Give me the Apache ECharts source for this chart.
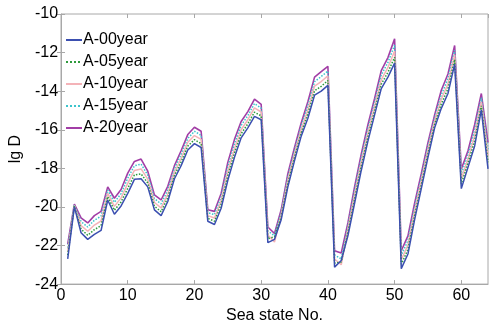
<!DOCTYPE html>
<html>
<head>
<meta charset="utf-8">
<script src="https://cdn.jsdelivr.net/npm/echarts@6/dist/echarts.min.js"></script>
<style>html,body{margin:0;padding:0;background:#fff}#c{width:490px;height:329px}</style>
</head>
<body>
<div id="c"></div>
<script>
var seaStates = [1,2,3,4,5,6,7,8,9,10,11,12,13,14,15,16,17,18,19,20,21,22,23,24,25,26,27,28,29,30,31,32,33,34,35,36,37,38,39,40,41,42,43,44,45,46,47,48,49,50,51,52,53,54,55,56,57,58,59,60,61,62,63,64];
var seriesNames = ['A-00year','A-05year','A-10year','A-15year','A-20year'];
var a00 = [-22.69,-20.00,-21.34,-21.68,-21.42,-21.22,-19.64,-20.38,-19.95,-19.30,-18.57,-18.54,-18.96,-20.15,-20.45,-19.72,-18.54,-17.86,-17.05,-16.72,-16.92,-20.74,-20.91,-20.07,-18.62,-17.43,-16.42,-15.90,-15.31,-15.48,-21.85,-21.68,-20.66,-18.96,-17.60,-16.33,-15.40,-14.21,-14.00,-13.70,-23.12,-22.78,-21.50,-19.81,-18.11,-16.59,-15.23,-13.87,-13.27,-12.55,-23.20,-22.44,-20.66,-19.05,-17.43,-15.90,-14.89,-14.12,-12.60,-19.05,-17.94,-16.84,-14.97,-18.03];
var a05 = [-22.50,-19.96,-21.15,-21.47,-21.18,-20.97,-19.47,-20.17,-19.74,-19.04,-18.34,-18.29,-18.76,-19.96,-20.25,-19.52,-18.37,-17.67,-16.85,-16.51,-16.71,-20.59,-20.74,-19.88,-18.39,-17.20,-16.21,-15.69,-15.09,-15.28,-21.65,-21.55,-20.53,-18.79,-17.43,-16.16,-15.19,-13.98,-13.75,-13.45,-22.91,-22.85,-21.33,-19.60,-17.90,-16.38,-15.02,-13.64,-13.02,-12.24,-22.97,-22.21,-20.45,-18.86,-17.24,-15.73,-14.66,-13.87,-12.36,-18.80,-17.73,-16.57,-14.76,-17.69];
var a10 = [-22.31,-19.93,-20.96,-21.26,-20.94,-20.73,-19.30,-19.97,-19.53,-18.78,-18.11,-18.03,-18.56,-19.77,-20.05,-19.33,-18.20,-17.48,-16.65,-16.30,-16.50,-20.45,-20.57,-19.69,-18.16,-16.97,-16.00,-15.48,-14.86,-15.08,-21.45,-21.82,-20.41,-18.62,-17.26,-15.99,-14.98,-13.74,-13.50,-13.21,-22.70,-23.00,-21.17,-19.39,-17.69,-16.17,-14.81,-13.41,-12.77,-11.92,-22.74,-21.97,-20.24,-18.67,-17.05,-15.57,-14.42,-13.62,-12.12,-18.54,-17.52,-16.29,-14.55,-17.35];
var a15 = [-22.12,-19.89,-20.76,-21.04,-20.69,-20.48,-19.13,-19.76,-19.31,-18.51,-17.87,-17.78,-18.35,-19.57,-19.84,-19.13,-18.03,-17.28,-16.45,-16.08,-16.29,-20.30,-20.40,-19.49,-17.92,-16.73,-15.78,-15.27,-14.64,-14.88,-21.24,-21.50,-20.28,-18.45,-17.09,-15.82,-14.76,-13.51,-13.24,-12.96,-22.48,-22.70,-21.00,-19.17,-17.47,-15.95,-14.59,-13.17,-12.51,-11.61,-22.50,-21.74,-20.02,-18.47,-16.86,-15.40,-14.19,-13.36,-11.87,-18.29,-17.30,-16.02,-14.33,-17.01];
var a20 = [-21.93,-19.85,-20.57,-20.83,-20.45,-20.23,-18.96,-19.55,-19.10,-18.25,-17.64,-17.52,-18.15,-19.38,-19.64,-18.93,-17.86,-17.09,-16.25,-15.87,-16.08,-20.15,-20.23,-19.30,-17.69,-16.50,-15.57,-15.06,-14.41,-14.68,-21.04,-21.38,-20.15,-18.28,-16.92,-15.65,-14.55,-13.27,-12.99,-12.71,-22.27,-22.39,-20.83,-18.96,-17.26,-15.74,-14.38,-12.94,-12.26,-11.29,-22.27,-21.50,-19.81,-18.28,-16.67,-15.23,-13.95,-13.11,-11.63,-18.03,-17.09,-15.74,-14.12,-16.67];
var yTicks = [-24,-22,-20,-18,-16,-14,-12,-10];
var xTicks = [0,10,20,30,40,50,60];

var allData = [a00,a05,a10,a15,a20];
var colors = ['#3b4fb0','#2e9a3c','#f4b3b8','#3cc4cc','#a23ea6'];
var types = ['solid','dotted','solid','dotted','solid'];
var widths = [1.5,1.5,1.5,1.5,1.6];

function pairs(vals){
  return seaStates.map(function(x,i){return [x, vals[i]];});
}
var series = allData.map(function(vals,k){
  return {
    name: seriesNames[k], type:'line', data: pairs(vals),
    symbol:'none', showSymbol:false, animation:false,
    xAxisIndex:0, yAxisIndex:0,
    lineStyle:{color:colors[k], width:widths[k], type:types[k]},
    itemStyle:{color:colors[k]}, z: 2 + (4-k)
  };
});

var font = 'Liberation Sans, Arial, sans-serif';
var chart = echarts.init(document.getElementById('c'), null, {renderer:'canvas'});
chart.setOption({
  backgroundColor:'#fff',
  animation:false,
  grid:{left:48.5, top:14, right:2, bottom:40, show:true, borderColor:'#a8a8a8', borderWidth:1, containLabel:false},
  legend:{
    orient:'vertical', left:60, top:27, itemWidth:16, itemHeight:14, itemGap:6,
    data: seriesNames,
    itemStyle:{opacity:0, borderWidth:0},
    textStyle:{fontFamily:font, fontSize:16, color:'#000', lineHeight:16, padding:[0,0,0,-4]}
  },
  xAxis:[{
    type:'value', min:xTicks[0], max:64, interval:10,
    name:'Sea state No.', nameLocation:'middle', nameGap:21,
    nameTextStyle:{fontFamily:font, fontSize:16, color:'#000'},
    axisLine:{show:true, lineStyle:{color:'#a8a8a8'}},
    axisTick:{show:true, inside:true, length:4, lineStyle:{color:'#a8a8a8'}},
    axisLabel:{fontFamily:font, fontSize:16, color:'#000', margin:3, showMaxLabel:false},
    splitLine:{show:false}
  },{
    type:'value', position:'top', min:xTicks[0], max:64, interval:10,
    axisLine:{show:false}, axisTick:{show:true, inside:true, length:4, lineStyle:{color:'#a8a8a8'}},
    axisLabel:{show:false}, splitLine:{show:false}
  }],
  yAxis:[{
    type:'value', min:yTicks[0], max:yTicks[yTicks.length-1], interval:2,
    name:'lg D', nameLocation:'middle', nameGap:30, nameRotate:90,
    nameTextStyle:{fontFamily:font, fontSize:16, color:'#000'},
    axisLine:{show:true, lineStyle:{color:'#a8a8a8'}},
    axisTick:{show:true, inside:true, length:4, lineStyle:{color:'#a8a8a8'}},
    axisLabel:{fontFamily:font, fontSize:16, color:'#000', margin:3},
    splitLine:{show:false}
  },{
    type:'value', position:'right', min:yTicks[0], max:yTicks[yTicks.length-1], interval:2,
    axisLine:{show:false}, axisTick:{show:true, inside:true, length:4, lineStyle:{color:'#a8a8a8'}},
    axisLabel:{show:false}, splitLine:{show:false}
  }],
  series: series
});
</script>
</body>
</html>
